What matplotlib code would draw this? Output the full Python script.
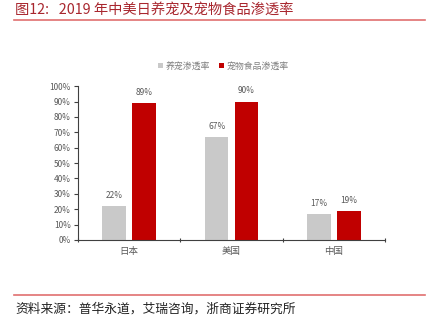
import matplotlib
matplotlib.use("Agg")
import matplotlib.pyplot as plt
import numpy as np

plt.rcParams['font.family'] = ['Noto Sans CJK SC', 'DejaVu Sans']

categories = ["日本", "美国", "中国"]
pet_rate = [22, 67, 17]
pet_food_rate = [89, 90, 19]
series_names = ["养宠渗透率", "宠物食品渗透率"]
yticks = [0, 10, 20, 30, 40, 50, 60, 70, 80, 90, 100]

gray = "#C9C9C9"
red = "#C00000"
tick_col = "#595959"

fig = plt.figure(figsize=(4.28, 3.30), dpi=100)

# title and rule
fig.text(0.035, 0.970, "图12:   2019 年中美日养宠及宠物食品渗透率", fontsize=10.3,
         color="#A8262E", ha="left", va="center")
fig.add_artist(plt.Line2D([0.033, 0.992], [0.938, 0.938], color="#E07070", lw=1.2))

ax = fig.add_axes([0.182, 0.273, 0.718, 0.466])
x = np.arange(len(categories))
w = 0.23
off = 0.145
b1 = ax.bar(x - off, pet_rate, w, color=gray, label=series_names[0])
b2 = ax.bar(x + off, pet_food_rate, w, color=red, label=series_names[1])

for bars, vals in ((b1, pet_rate), (b2, pet_food_rate)):
    for rect, v in zip(bars, vals):
        ax.text(rect.get_x() + rect.get_width() / 2, v + 4, f"{v}%",
                ha="center", va="bottom", fontsize=6, color=tick_col)

ax.set_xlim(-0.5, 2.5)
ax.set_ylim(0, 100)
ax.set_yticks(yticks)
ax.set_yticklabels([f"{t}%" for t in yticks])
ax.set_xticks(x)
ax.set_xticklabels(categories)
ax.set_xticks([-0.5, 0.5, 1.5, 2.5], minor=True)
ax.tick_params(axis="x", which="major", length=0, labelsize=6.8, colors=tick_col, pad=5)
ax.tick_params(axis="x", which="minor", length=3, width=0.8, color="#404040", direction="inout")
ax.tick_params(axis="y", length=3, width=0.8, color="#404040", labelsize=6,
               labelcolor=tick_col, pad=2)
for s in ("top", "right"):
    ax.spines[s].set_visible(False)
ax.spines["left"].set_color("#404040")
ax.spines["bottom"].set_color("#404040")
ax.spines["left"].set_linewidth(0.8)
ax.spines["bottom"].set_linewidth(0.8)

fig.legend(handles=[b1, b2], labels=series_names, loc="center",
           bbox_to_anchor=(0.522, 0.80), ncol=2, frameon=False, fontsize=6.4,
           handlelength=0.55, handleheight=0.55, handletextpad=0.3, columnspacing=1.0,
           labelcolor="#7F7F7F")

# source rule and note
fig.add_artist(plt.Line2D([0.033, 0.992], [0.106, 0.106], color="#E07070", lw=1.2))
fig.text(0.035, 0.062, "资料来源：普华永道，艾瑞咨询，浙商证券研究所", fontsize=9.2,
         color="#222222", ha="left", va="center")

fig.savefig("out.png", dpi=100)
